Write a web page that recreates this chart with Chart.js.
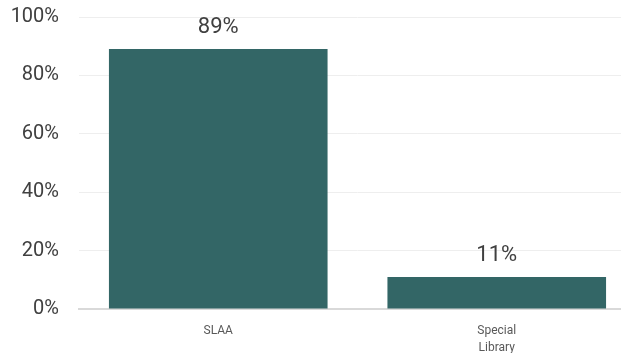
<!DOCTYPE html>
<html lang="en">
<head>
    <meta charset="UTF-8">
    <title>SLAA vs Special Library</title>
    <script src="https://cdn.jsdelivr.net/npm/chart.js"></script>
    <style>
        body {
            margin: 0;
            padding: 0;
            background: #fff;
            overflow: hidden;
        }
        .wrap {
            width: 636px;
            height: 353px;
        }
    </style>
</head>
<body>
    <div class="wrap">
        <canvas id="chart" width="636" height="353"></canvas>
    </div>

    <script>
        const categories = [['SLAA'], ['Special', 'Library']];
        const shares = [89, 11];
        const yTicks = [0, 20, 40, 60, 80, 100];

        const fontFamily = "'Roboto', 'Liberation Sans', sans-serif";

        // draws the "89%" style labels above each bar
        const barLabels = {
            id: 'barLabels',
            afterDatasetsDraw(chart) {
                const ctx = chart.ctx;
                const meta = chart.getDatasetMeta(0);
                ctx.save();
                ctx.font = '22px ' + fontFamily;
                ctx.fillStyle = '#404040';
                ctx.textAlign = 'center';
                ctx.textBaseline = 'alphabetic';
                meta.data.forEach((bar, i) => {
                    ctx.fillText(shares[i] + '%', bar.x, bar.y - 16);
                });
                ctx.restore();
            }
        };

        new Chart(document.getElementById('chart'), {
            type: 'bar',
            data: {
                labels: categories,
                datasets: [{
                    data: shares,
                    backgroundColor: '#336666',
                    categoryPercentage: 0.785,
                    barPercentage: 1
                }]
            },
            options: {
                responsive: false,
                animation: false,
                layout: { padding: { top: 17, right: 0, bottom: 0, left: 0 } },
                plugins: {
                    legend: { display: false },
                    tooltip: { enabled: false }
                },
                scales: {
                    x: {
                        grid: { display: false, drawTicks: false },
                        border: { display: true, color: '#d9d9d9', width: 2 },
                        ticks: {
                            color: '#595959',
                            font: { family: fontFamily, size: 12, lineHeight: 1.4 },
                            padding: 14,
                            maxRotation: 0
                        },
                        afterFit: scale => { scale.height = 44; }
                    },
                    y: {
                        min: 0,
                        max: 100,
                        afterBuildTicks: scale => {
                            scale.ticks = yTicks.map(v => ({ value: v }));
                        },
                        grid: {
                            drawTicks: false,
                            color: ctx => ctx.tick && ctx.tick.value === 0 ? 'rgba(0,0,0,0)' : '#eeeeee',
                            lineWidth: 1
                        },
                        border: { display: false },
                        ticks: {
                            color: '#404040',
                            font: { family: fontFamily, size: 20 },
                            padding: 20,
                            callback: v => v + '%'
                        },
                        afterFit: scale => {
                            scale.width = 79;
                            scale.paddingTop = 0;
                            scale.paddingBottom = 0;
                        }
                    }
                }
            },
            plugins: [barLabels]
        });
    </script>
</body>
</html>
